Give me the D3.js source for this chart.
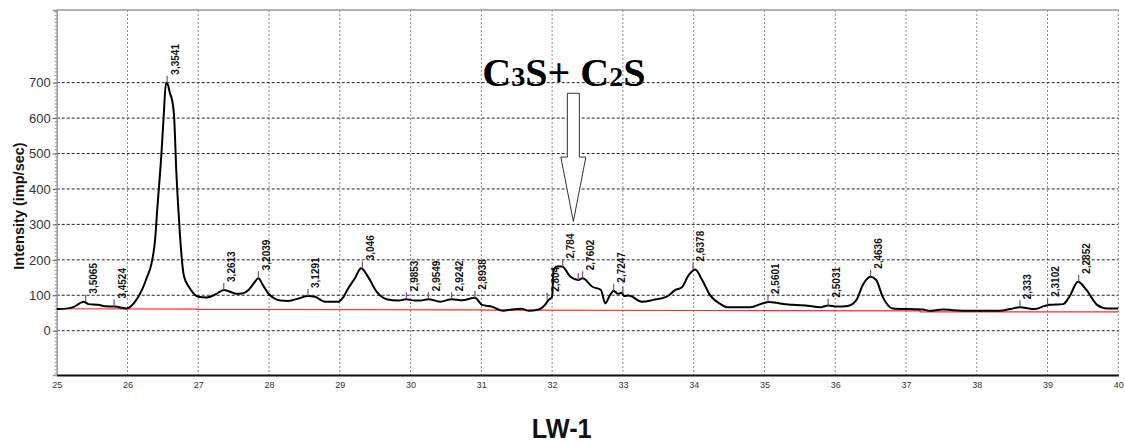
<!DOCTYPE html>
<html>
<head>
<meta charset="utf-8">
<script src="https://cdn.jsdelivr.net/npm/d3@7"></script>
<style>
  body { margin: 0; background: #fff; }
  svg { display: block; font-family: "Liberation Sans", Arial, sans-serif; }
</style>
</head>
<body>
<svg id="chart" width="1125" height="443"></svg>
<script>
// 2-theta positions and intensities
const twoTheta = [25.00, 25.16, 25.25, 25.38, 25.45, 25.59, 25.68, 25.82, 25.99, 26.10,
  26.22, 26.27, 26.34, 26.39, 26.42, 26.48, 26.51, 26.545, 26.57, 26.60,
  26.63, 26.66, 26.69, 26.72, 26.74, 26.80, 26.88, 27.00, 27.12, 27.25,
  27.36, 27.45, 27.54, 27.62, 27.71, 27.79, 27.85, 27.91, 27.99, 28.07,
  28.16, 28.27, 28.42, 28.55, 28.65, 28.72, 28.79, 28.98, 29.05, 29.12,
  29.22, 29.30, 29.40, 29.52, 29.66, 29.83, 29.94, 30.06, 30.14, 30.25,
  30.42, 30.58, 30.73, 30.91, 31.01, 31.15, 31.31, 31.43, 31.57, 31.67,
  31.81, 31.90, 31.95, 32.00, 32.02, 32.07, 32.14, 32.26, 32.37, 32.43,
  32.57, 32.69, 32.75, 32.82, 32.87, 32.93, 32.98, 33.02, 33.08, 33.27,
  33.43, 33.62, 33.74, 33.83, 33.93, 34.02, 34.12, 34.23, 34.38, 34.49,
  34.80, 34.97, 35.06, 35.22, 35.40, 35.64, 35.78, 35.90, 36.02, 36.18,
  36.30, 36.39, 36.50, 36.58, 36.67, 36.81, 37.05, 37.24, 37.33, 37.52,
  37.66, 37.90, 38.09, 38.33, 38.47, 38.61, 38.82, 38.96, 39.03, 39.22,
  39.31, 39.43, 39.55, 39.70, 39.84, 40.00];
const intensity = [61, 63, 68, 82, 75, 73, 69, 68, 63, 80,
  122, 148, 190, 256, 340, 500, 600, 700, 695, 670,
  651, 600, 450, 340, 275, 152, 120, 96, 94, 103,
  115, 110, 104, 105, 115, 135, 148, 130, 105, 92,
  85, 84, 91, 98, 96, 88, 82, 82, 95, 120,
  150, 176, 152, 110, 89, 85, 89, 85, 85, 89,
  82, 89, 86, 93, 73, 68, 56, 60, 62, 56,
  60, 73, 87, 96, 171, 181, 181, 152, 143, 148,
  124, 115, 77, 101, 113, 104, 107, 98, 99, 82,
  87, 96, 115, 122, 157, 173, 143, 101, 75, 66,
  66, 77, 81, 77, 73, 70, 66, 71, 68, 70,
  87, 129, 152, 143, 96, 63, 61, 60, 56, 60,
  58, 56, 56, 56, 61, 66, 61, 70, 73, 75,
  96, 138, 115, 73, 63, 63];

// background (red) line
const bgTheta = [25.0, 27.0, 27.0, 31.0, 31.0, 34.0, 37.2, 37.2, 40.0];
const bgIntensity = [62, 61, 60, 59, 58, 57, 56, 53, 53];

// peak markers: position, d-spacing label, intensity at peak
const peakTheta = [25.41, 25.81, 26.56, 27.36, 27.85, 28.55, 29.32, 29.94, 30.25, 30.58,
  30.91, 31.93, 32.15, 32.37, 32.43, 32.87, 33.00, 33.99, 35.05, 35.90, 36.50, 38.61, 39.00, 39.44];
const peakLabel = ["3,5065", "3,4524", "3,3541", "3,2613", "3,2039", "3,1291", "3,046", "2,9853", "2,9549", "2,9242",
  "2,8938", "2,804", "2,784", "", "2,7602", "2,7247", "", "2,6378", "2,5601", "2,5031", "2,4636", "2,333", "2,3102", "2,2852"];
const peakIntensity = [82, 68, 700, 115, 148, 98, 176, 89, 89, 89,
  93, 87, 181, 143, 148, 113, 104, 173, 81, 71, 152, 66, 73, 138];

const xTicks = d3.range(25, 41);
const yTicks = [0, 100, 200, 300, 400, 500, 600, 700];

const svg = d3.select("#chart");
const plotLeft = 56.7, plotRight = 1118.3, plotTop = 10, plotBottom = 375;

const x = d3.scaleLinear().domain([25, 40]).range([plotLeft, plotRight]);
const y = d3.scaleLinear().domain([-125, 905]).range([plotBottom, plotTop]);

// vertical grid
svg.append("g").selectAll("line")
  .data(xTicks.slice(1))
  .join("line")
  .attr("x1", d => x(d)).attr("x2", d => x(d))
  .attr("y1", plotTop).attr("y2", plotBottom)
  .attr("stroke", "#8c8c8c").attr("stroke-width", 1)
  .attr("stroke-dasharray", "2,2");

// horizontal grid
svg.append("g").selectAll("line")
  .data(yTicks)
  .join("line")
  .attr("x1", plotLeft).attr("x2", plotRight)
  .attr("y1", d => y(d)).attr("y2", d => y(d))
  .attr("stroke", "#222").attr("stroke-width", 1)
  .attr("stroke-dasharray", "3,2");

// frame: top gray, left gray axis, bottom black
svg.append("line").attr("x1", plotLeft).attr("x2", plotRight).attr("y1", plotTop).attr("y2", plotTop)
  .attr("stroke", "#9a9a9a").attr("stroke-width", 1.5);

const yAxis = svg.append("g").attr("transform", `translate(${plotLeft},0)`)
  .call(d3.axisLeft(y).tickValues(yTicks).tickSize(4).tickPadding(2));
yAxis.select(".domain").attr("stroke", "#999").attr("stroke-width", 1.5);
yAxis.selectAll(".tick line").attr("stroke", "#555");
yAxis.selectAll("text").attr("font-size", 13).attr("fill", "#333")
  .attr("font-family", "Liberation Sans, Arial, sans-serif");

// minor ticks on the left axis
svg.append("g").selectAll("line")
  .data(d3.range(-120, 901, 10))
  .join("line")
  .attr("x1", plotLeft - 2).attr("x2", plotLeft)
  .attr("y1", d => y(d)).attr("y2", d => y(d))
  .attr("stroke", "#777").attr("stroke-width", 0.8);

const xAxis = svg.append("g").attr("transform", `translate(0,${plotBottom})`)
  .call(d3.axisBottom(x).tickValues(xTicks).tickSize(0).tickPadding(7).tickFormat(d3.format("d")));
xAxis.select(".domain").attr("stroke", "#111").attr("stroke-width", 2);
xAxis.selectAll("text").attr("font-size", 9).attr("fill", "#333")
  .attr("font-family", "Liberation Sans, Arial, sans-serif");

// background line
svg.append("path")
  .datum(d3.zip(bgTheta, bgIntensity))
  .attr("fill", "none")
  .attr("stroke", "#ff2a2a").attr("stroke-width", 1.2)
  .attr("d", d3.line().x(d => x(d[0])).y(d => y(d[1])));

// pattern
svg.append("path")
  .datum(d3.zip(twoTheta, intensity))
  .attr("fill", "none")
  .attr("stroke", "#000").attr("stroke-width", 2)
  .attr("stroke-linejoin", "round")
  .attr("d", d3.line().x(d => x(d[0])).y(d => y(d[1])).curve(d3.curveMonotoneX));

// peak ticks and labels
const peaks = svg.append("g").selectAll("g")
  .data(d3.zip(peakTheta, peakLabel, peakIntensity))
  .join("g");
peaks.append("line")
  .attr("x1", d => x(d[0])).attr("x2", d => x(d[0]))
  .attr("y1", d => y(d[2])).attr("y2", d => y(d[2]) - 7)
  .attr("stroke", "#7d4f80").attr("stroke-width", 1.2);
peaks.append("text")
  .attr("transform", d => `translate(${x(d[0]) + 11.5},${y(d[2]) - 8}) rotate(-90)`)
  .attr("font-size", 10).attr("font-weight", "bold").attr("fill", "#111")
  .text(d => d[1]);

// axis titles
svg.append("text")
  .attr("transform", `translate(24,206) rotate(-90)`)
  .attr("text-anchor", "middle")
  .attr("font-size", 14.5).attr("font-weight", "bold").attr("fill", "#111")
  .text("Intensity (imp/sec)");

svg.append("text")
  .attr("x", 561.7).attr("y", 438)
  .attr("text-anchor", "middle")
  .attr("font-size", 27).attr("font-weight", "bold").attr("fill", "#111")
  .attr("textLength", 60).attr("lengthAdjust", "spacingAndGlyphs")
  .text("LW-1");

// C3S + C2S annotation with hollow arrow
const arrowTheta = 32.3, arrowTop = 670, arrowNeck = 490, arrowTip = 308;
const ax = x(arrowTheta);
svg.append("path")
  .attr("d", `M${ax - 6},${y(arrowTop)} L${ax + 6},${y(arrowTop)} L${ax + 6},${y(arrowNeck)}
    L${ax + 12.5},${y(arrowNeck)} L${ax},${y(arrowTip)} L${ax - 12.5},${y(arrowNeck)}
    L${ax - 6},${y(arrowNeck)} Z`)
  .attr("fill", "#fff").attr("stroke", "#333").attr("stroke-width", 1);

const note = svg.append("text")
  .attr("x", ax - 91).attr("y", 86)
  .attr("font-family", "Liberation Serif, 'Times New Roman', serif")
  .attr("font-weight", "bold").attr("font-size", 40).attr("fill", "#000");
note.append("tspan").text("C");
note.append("tspan").attr("font-size", 28).text("3");
note.append("tspan").text("S+ C");
note.append("tspan").attr("font-size", 28).text("2");
note.append("tspan").text("S");
</script>
</body>
</html>
